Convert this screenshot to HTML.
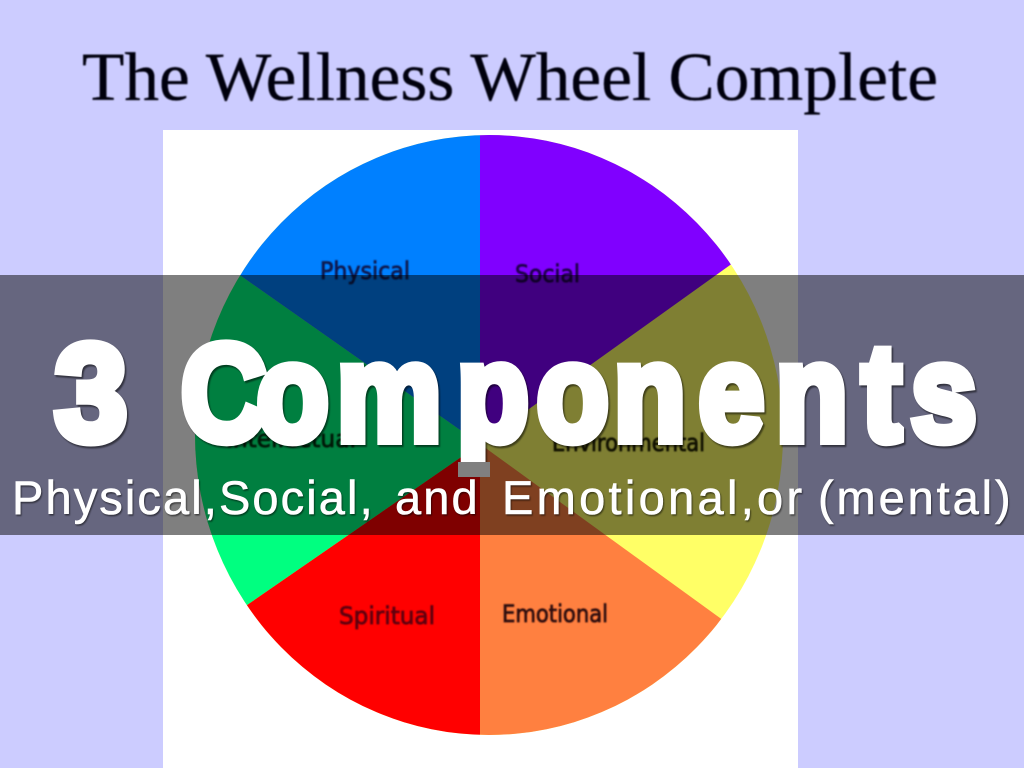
<!DOCTYPE html>
<html>
<head>
<meta charset="utf-8">
<title>The Wellness Wheel Complete</title>
<style>
html,body{margin:0;padding:0;width:1024px;height:768px;overflow:hidden;background:#ccccff}
svg{display:block}
</style>
</head>
<body>
<svg width="1024" height="768" viewBox="0 0 1024 768" xmlns="http://www.w3.org/2000/svg">
<defs>
<clipPath id="wheel"><ellipse cx="489" cy="435" rx="294" ry="300"/></clipPath>
<filter id="b1" x="-5%" y="-20%" width="110%" height="140%"><feGaussianBlur stdDeviation="0.7"/></filter>
<filter id="b2" x="-5%" y="-20%" width="110%" height="140%"><feGaussianBlur stdDeviation="0.7"/></filter>
<filter id="s1" x="-5%" y="-10%" width="110%" height="120%"><feGaussianBlur stdDeviation="0.8"/></filter>
</defs>
<rect width="1024" height="768" fill="#ccccff"/>
<text x="82" y="100" font-family="'Liberation Serif',serif" font-size="69" fill="#05050f" stroke="#05050f" stroke-width="0.3" textLength="856" lengthAdjust="spacingAndGlyphs" filter="url(#b1)">The Wellness Wheel Complete</text>
<rect x="163" y="130" width="635" height="638" fill="#ffffff"/>
<g clip-path="url(#wheel)">
<rect x="150" y="100" width="700" height="668" fill="#ffff66"/>
<polygon points="480,444 480,100 800,100 800,215" fill="#8000ff"/>
<polygon points="480,444 800,676 800,768 480,768" fill="#ff8040"/>
<polygon points="480,444 480,768 150,768 150,672" fill="#ff0000"/>
<polygon points="480,444 150,672 150,212" fill="#00ff80"/>
<polygon points="480,444 150,212 150,100 480,100" fill="#0080ff"/>
</g>
<g font-family="'DejaVu Sans','Liberation Sans',sans-serif" font-size="24" stroke-width="0.8" filter="url(#b2)">
<text x="320" y="279" textLength="90" lengthAdjust="spacingAndGlyphs" fill="#0a1a50" stroke="#0a1a50">Physical</text>
<text x="515" y="282" textLength="65" lengthAdjust="spacingAndGlyphs" fill="#200050" stroke="#200050">Social</text>
<text x="226" y="447" textLength="130" lengthAdjust="spacingAndGlyphs" fill="#003010" stroke="#003010">Intellectual</text>
<text x="552" y="451" textLength="153" lengthAdjust="spacingAndGlyphs" fill="#202000" stroke="#202000">Environmental</text>
<text x="339" y="624" textLength="96" lengthAdjust="spacingAndGlyphs" fill="#600010" stroke="#600010">Spiritual</text>
<text x="502" y="622" textLength="106" lengthAdjust="spacingAndGlyphs" fill="#301010" stroke="#301010">Emotional</text>
</g>
<rect x="0" y="275" width="1024" height="260" fill="#000000" fill-opacity="0.5"/>
<g font-family="'Liberation Sans',sans-serif" font-weight="bold" font-size="137">
<g fill="#000" stroke="#000" stroke-width="10" stroke-linejoin="miter" stroke-miterlimit="1.5" opacity="0.5" transform="translate(1.5,2)" filter="url(#s1)">
<text x="55" y="440" textLength="72" lengthAdjust="spacingAndGlyphs">3</text>
<text transform="scale(.86,1)" x="210.5 298.5 391.6 531.2 624.1 713.7 812.4 902.1 1002.3 1059.3" y="440">Components</text>
</g>
<g fill="#fff" stroke="#fff" stroke-width="10" stroke-linejoin="miter" stroke-miterlimit="1.5">
<text x="55" y="440" textLength="72" lengthAdjust="spacingAndGlyphs">3</text>
<text transform="scale(.86,1)" x="210.5 298.5 391.6 531.2 624.1 713.7 812.4 902.1 1002.3 1059.3" y="440">Components</text>
</g>
</g>
<rect x="458" y="462" width="32" height="15" fill="#808080"/>
<g font-family="'Liberation Sans',sans-serif" font-size="47">
<text y="514" fill="#000" stroke="#000" stroke-width="0.6" opacity="0.5" transform="translate(1,1.5)" filter="url(#s1)" letter-spacing="2.1"><tspan x="12">Physical,Social,</tspan> <tspan x="395">and</tspan> <tspan x="502" letter-spacing="3.3">Emotional,or</tspan> <tspan x="818" letter-spacing="2.9">(mental)</tspan></text>
<text y="514" fill="#fff" stroke="#fff" stroke-width="0.6" letter-spacing="2.1"><tspan x="12">Physical,Social,</tspan> <tspan x="395">and</tspan> <tspan x="502" letter-spacing="3.3">Emotional,or</tspan> <tspan x="818" letter-spacing="2.9">(mental)</tspan></text>
</g>
</svg>
</body>
</html>
